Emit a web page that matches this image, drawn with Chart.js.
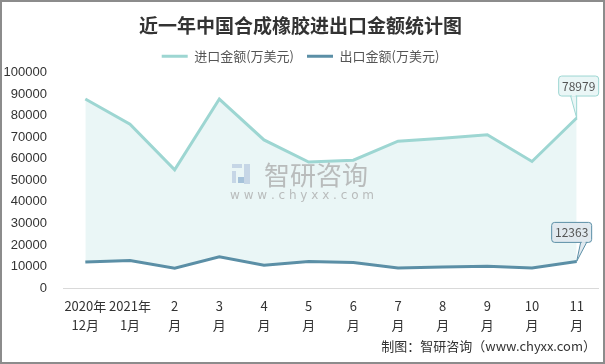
<!DOCTYPE html>
<html>
<head>
<meta charset="utf-8">
<script src="https://cdn.jsdelivr.net/npm/chart.js@4"></script>
<style>
  body { margin: 0; background: #fff; }
  #wrap { width: 605px; height: 364px; }
</style>
</head>
<body>
<div id="wrap"><canvas id="myChart" width="605" height="364"></canvas></div>
<script>
//+++++++++++++++ data +++++++++++++++
var months = [['2020年', '12月'], ['2021年', '1月'], ['2', '月'], ['3', '月'], ['4', '月'], ['5', '月'],
	['6', '月'], ['7', '月'], ['8', '月'], ['9', '月'], ['10', '月'], ['11', '月']];
var importValues = [87800, 76100, 54900, 87800, 68800, 58500, 59400, 68200, 69600, 71200, 58800, 78979];
var exportValues = [12100, 12800, 9200, 14500, 10600, 12300, 11800, 9300, 9800, 10100, 9300, 12363];
var yTicks = [0, 10000, 20000, 30000, 40000, 50000, 60000, 70000, 80000, 90000, 100000];

var importColor = '#9dd6d2';
var exportColor = '#5b8fa6';
var cjk = '"Noto Sans CJK SC", sans-serif';

//+++++++++++++++ callouts, watermark, source, frame +++++++++++++++
function roundBox(ctx, x, y, w, h, r) {
	ctx.beginPath();
	ctx.moveTo(x + r, y);
	ctx.lineTo(x + w - r, y);
	ctx.quadraticCurveTo(x + w, y, x + w, y + r);
	ctx.lineTo(x + w, y + h - r);
	ctx.quadraticCurveTo(x + w, y + h, x + w - r, y + h);
	ctx.lineTo(x + r, y + h);
	ctx.quadraticCurveTo(x, y + h, x, y + h - r);
	ctx.lineTo(x, y + r);
	ctx.quadraticCurveTo(x, y, x + r, y);
	ctx.closePath();
}

var extras = {
	id: 'extras',
	afterDatasetsDraw: function (chart) {
		var ctx = chart.ctx;
		ctx.save();

		// watermark
		var cx = 302;
		var cy = 175;
		ctx.globalAlpha = 0.75;
		ctx.fillStyle = '#b9cbe0';
		ctx.fillRect(cx - 70, cy - 11, 10, 4);
		ctx.fillRect(cx - 70, cy - 4, 4, 12);
		ctx.fillRect(cx - 58, cy - 11, 6, 20);
		ctx.fillStyle = '#8fb0d0';
		ctx.fillRect(cx - 64, cy + 2, 6, 6);
		ctx.fillStyle = '#a8a8a8';
		ctx.font = '26px ' + cjk;
		ctx.textAlign = 'left';
		ctx.textBaseline = 'middle';
		ctx.fillText('智研咨询', cx - 38, cy);
		ctx.font = '12px "DejaVu Sans", sans-serif';
		ctx.textAlign = 'center';
		ctx.fillText('w w w . c h y x x . c o m', cx, cy + 21);
		ctx.globalAlpha = 1;

		// callouts on last points
		var specs = [
			{ ds: 0, dx: 2, gap: 22, fill: '#eaf6f6', stroke: importColor, values: importValues },
			{ ds: 1, dx: -5, gap: 19, fill: '#e1e9ef', stroke: exportColor, values: exportValues }
		];
		specs.forEach(function (s) {
			var meta = chart.getDatasetMeta(s.ds);
			var last = meta.data.length - 1;
			var pt = meta.data[last];
			var w = 40, h = 20;
			var bx = pt.x + s.dx - w / 2;
			var by = pt.y - s.gap - h;
			ctx.fillStyle = s.fill;
			ctx.strokeStyle = s.stroke;
			ctx.lineWidth = 1;
			roundBox(ctx, bx, by, w, h, 3);
			ctx.fill();
			ctx.stroke();
			// pointer
			ctx.beginPath();
			if (s.ds === 0) {
				ctx.moveTo(pt.x - 6, by + h);
				ctx.lineTo(pt.x, pt.y);
				ctx.lineTo(pt.x, by + h);
			} else {
				ctx.moveTo(pt.x + 4, by + h);
				ctx.lineTo(pt.x, pt.y);
				ctx.lineTo(pt.x + 10, by + h);
			}
			ctx.closePath();
			ctx.fill();
			ctx.stroke();
			ctx.fillStyle = s.fill;
			ctx.fillRect(s.ds === 0 ? pt.x - 5 : pt.x + 5, by + h - 1.5, 4, 2);
			ctx.fillStyle = '#555';
			ctx.font = '12px ' + cjk;
			ctx.textAlign = 'center';
			ctx.textBaseline = 'middle';
			ctx.fillText(String(s.values[last]), bx + w / 2, by + h / 2);
		});
		ctx.restore();
	},
	afterDraw: function (chart) {
		var ctx = chart.ctx;
		ctx.save();
		ctx.fillStyle = '#333';
		ctx.font = '13px ' + cjk;
		ctx.textAlign = 'right';
		ctx.textBaseline = 'middle';
		ctx.fillText('制图：智研咨询（www.chyxx.com）', 596, 346);
		ctx.strokeStyle = '#8c8c8c';
		ctx.lineWidth = 2;
		ctx.strokeRect(1, 1, chart.width - 2, chart.height - 2);
		ctx.restore();
	}
};

//+++++++++++++++ chart +++++++++++++++
var ctx = document.getElementById('myChart').getContext('2d');
var chart = new Chart(ctx, {
	type: 'line',
	data: {
		labels: months,
		datasets: [{
			label: '进口金额(万美元)',
			data: importValues,
			borderColor: importColor,
			backgroundColor: '#eaf6f6',
			borderWidth: 3,
			pointRadius: 0,
			tension: 0,
			fill: '+1'
		},
		{
			label: '出口金额(万美元)',
			data: exportValues,
			borderColor: exportColor,
			backgroundColor: exportColor,
			borderWidth: 3,
			pointRadius: 0,
			tension: 0,
			fill: false
		}]
	},
	options: {
		responsive: false,
		devicePixelRatio: 1,
		animation: false,
		layout: { padding: { left: 2, right: 6, top: 0, bottom: 27 } },
		plugins: {
			filler: { drawTime: 'beforeDatasetsDraw' },
			title: {
				display: true,
				text: '近一年中国合成橡胶进出口金额统计图',
				color: '#333',
				font: { family: cjk, size: 19, weight: 'bold' },
				padding: { top: 14, bottom: 0 }
			},
			legend: {
				display: true,
				labels: {
					color: '#555',
					font: { family: cjk, size: 13 },
					boxWidth: 26,
					boxHeight: 3,
					padding: 13,
					generateLabels: function (chart) {
						var items = Chart.defaults.plugins.legend.labels.generateLabels(chart);
						items.forEach(function (it) {
							it.fillStyle = it.strokeStyle;
							it.lineWidth = 0;
						});
						return items;
					}
				}
			},
			tooltip: { enabled: false }
		},
		scales: {
			x: {
				offset: true,
				grid: { display: false, drawTicks: false },
				border: { display: false },
				afterFit: function (axis) { axis.height = 49; },
				ticks: {
					color: '#333',
					font: { family: cjk, size: 13, lineHeight: 1.5 },
					maxRotation: 0,
					autoSkip: false,
					padding: 8
				}
			},
			y: {
				min: 0,
				max: 100000,
				afterBuildTicks: function (axis) {
					axis.ticks = yTicks.map(function (v) { return { value: v }; });
				},
				afterFit: function (axis) { axis.width = 61; },
				grid: {
					drawTicks: false,
					color: function (c) { return c.tick.value === 0 ? '#d9d9d9' : 'transparent'; }
				},
				border: { display: false },
				ticks: {
					color: '#333',
					font: { family: '"Liberation Sans", Arial, sans-serif', size: 13 },
					padding: 16,
					callback: function (v) { return String(v); }
				}
			}
		}
	},
	plugins: [extras]
});
</script>
</body>
</html>
